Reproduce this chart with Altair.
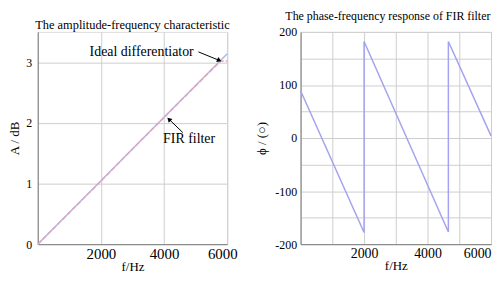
import altair as alt
import pandas as pd

# ---- data ----
amp_freq = [0, 1000, 2000, 3000, 4000, 5000, 5500, 5800, 6000]
fir_amp = [0, 0.52, 1.04, 1.57, 2.09, 2.61, 2.87, 3.02, 3.02]
ideal_freq = [0, 6000]
ideal_amp = [0, 3.14]

phase_freq = [0, 2000, 2000, 4656, 4656, 6000]
phase_deg = [89, -178, 182, -177, 182, 4]

panel_titles = ["The amplitude-frequency characteristic", "The phase-frequency response of FIR filter"]

# annotations (data coordinates)
ann_text = ["Ideal differentiator", "FIR filter"]
ann_text_x = [4940, 3970]
ann_text_y = [3.17, 1.73]
ann_align = ["right", "left"]
arrow_x0 = [5090, 4594]
arrow_y0 = [3.17, 1.84]
arrow_x1 = [5750, 4156]
arrow_y1 = [3.03, 2.06]
arrow_angle = [113, 315]

SERIF = "Liberation Serif"
GRID = "#cdcdcd"
DOMAIN = "#808080"

amp_df = pd.DataFrame({"f": amp_freq, "A": fir_amp, "i": range(len(amp_freq))})
ideal_df = pd.DataFrame({"f": ideal_freq, "A": ideal_amp})
phase_df = pd.DataFrame({"f": phase_freq, "p": phase_deg, "i": range(len(phase_freq))})
ann_df = pd.DataFrame({"t": ann_text, "x": ann_text_x, "y": ann_text_y, "al": ann_align})
arr_df = pd.DataFrame({"x0": arrow_x0, "y0": arrow_y0, "x1": arrow_x1, "y1": arrow_y1, "ang": arrow_angle})

xvals = list(range(0, 6001, 1000))
xlab = "datum.value > 0 && datum.value % 2000 == 0 ? '' + datum.value : ''"

def xaxis(flush_off, size):
    return alt.Axis(values=xvals, labelExpr=xlab, title="f/Hz",
                    ticks=False, grid=True, gridColor=GRID, domainColor=DOMAIN,
                    labelFont=SERIF, labelFontSize=size, labelColor="black",
                    labelFlush=True, labelFlushOffset=flush_off, labelPadding=2,
                    titleFont=SERIF, titleFontSize=13, titleFontWeight="normal",
                    titlePadding=0, titleColor="black")

# ---------- left panel ----------
xs_l = alt.X("f:Q", scale=alt.Scale(domain=[0, 6000], nice=False), axis=xaxis(10, 15))
ys_l = alt.Y("A:Q", scale=alt.Scale(domain=[0, 3.5], nice=False),
             axis=alt.Axis(values=[0, 0.5, 1, 1.5, 2, 2.5, 3, 3.5],
                           labelExpr="datum.value % 1 == 0 ? '' + datum.value : ''",
                           title="A / dB", ticks=False, grid=True, gridColor=GRID,
                           domainColor=DOMAIN, labelFont=SERIF, labelFontSize=12,
                           labelColor="black", labelPadding=6, titleFont=SERIF,
                           titleFontSize=13, titleFontWeight="normal", titlePadding=4,
                           titleColor="black"))

ideal = alt.Chart(ideal_df).mark_line(color="#a9b9f0", strokeWidth=1.5).encode(x=xs_l, y=ys_l)
fir = alt.Chart(amp_df).mark_line(color="#e6a3bd", strokeWidth=1.5, strokeDash=[5, 2]).encode(
    x=xs_l, y=ys_l, order="i:Q")
txt_r = alt.Chart(ann_df).transform_filter(alt.datum.al == "right").mark_text(
    font=SERIF, fontSize=14, baseline="middle", align="right", color="black").encode(
    x="x:Q", y="y:Q", text="t:N")
txt_l = alt.Chart(ann_df).transform_filter(alt.datum.al == "left").mark_text(
    font=SERIF, fontSize=14, baseline="middle", align="left", color="black").encode(
    x="x:Q", y="y:Q", text="t:N")
arr = alt.Chart(arr_df).mark_rule(color="black", strokeWidth=1).encode(
    x="x0:Q", y="y0:Q", x2="x1:Q", y2="y1:Q")
head = alt.Chart(arr_df).mark_point(shape="triangle-up", filled=True, color="black", size=28, opacity=1).encode(
    x="x1:Q", y="y1:Q", angle=alt.Angle("ang:Q", scale=None))

left = alt.layer(ideal, fir, arr, head, txt_r, txt_l).properties(
    width=191, height=214,
    title=alt.TitleParams(panel_titles[0], font=SERIF, fontSize=12.5, fontWeight="normal",
                          offset=0, color="black"))

# ---------- right panel ----------
xs_r = alt.X("f:Q", scale=alt.Scale(domain=[0, 6000], nice=False), axis=xaxis(0, 14))
ys_r = alt.Y("p:Q", scale=alt.Scale(domain=[-200, 200], nice=False),
             axis=alt.Axis(values=list(range(-200, 201, 50)),
                           labelExpr="datum.value % 100 == 0 ? '' + datum.value : ''",
                           title="ϕ / (○)", ticks=False, grid=True, gridColor=GRID,
                           domainColor=DOMAIN, labelFont=SERIF, labelFontSize=12,
                           labelColor="black", labelPadding=4, titleFont=SERIF,
                           titleFontSize=13, titleFontWeight="normal", titlePadding=6,
                           titleColor="black"))
phase = alt.Chart(phase_df).mark_line(color="#a3a3f0", strokeWidth=1.5).encode(
    x=xs_r, y=ys_r, order="i:Q")
right = phase.properties(
    width=192, height=214,
    title=alt.TitleParams(panel_titles[1], font=SERIF, fontSize=12, fontWeight="normal",
                          offset=3, dx=-8, color="black"))

chart = (alt.hconcat(left, right, spacing=74, bounds="flush")
         .properties(padding=0)
         .configure_view(stroke=None)
         .configure(background="white"))
chart.save("out.html", embed_options={"renderer": "svg", "actions": False})
